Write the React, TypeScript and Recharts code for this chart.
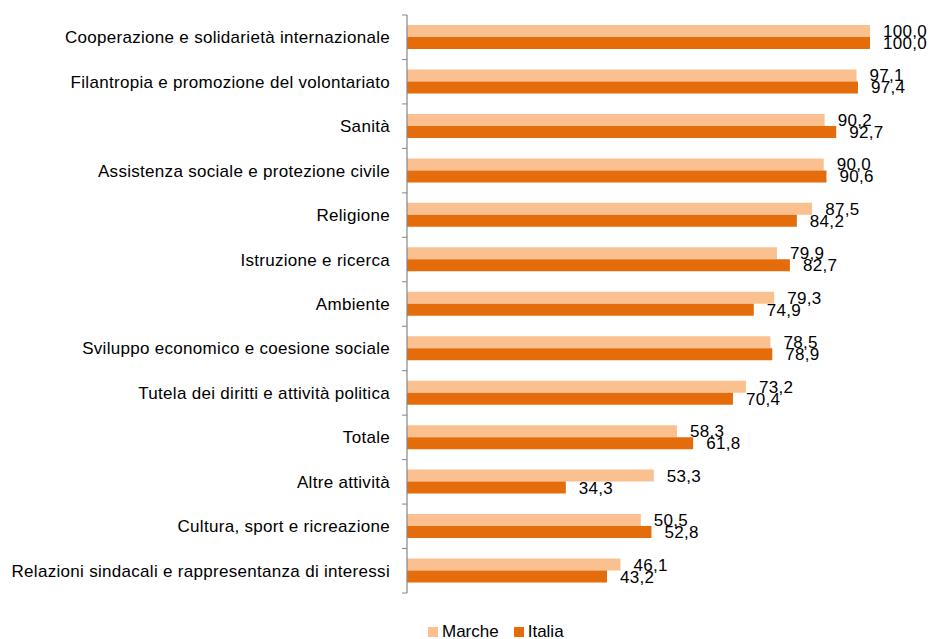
import React from "react";
import { BarChart, Bar, XAxis, YAxis, Legend, LabelList } from "recharts";

const categories = [
  "Cooperazione e solidarietà internazionale",
  "Filantropia e promozione del volontariato",
  "Sanità",
  "Assistenza sociale e protezione civile",
  "Religione",
  "Istruzione e ricerca",
  "Ambiente",
  "Sviluppo economico e coesione sociale",
  "Tutela dei diritti e attività politica",
  "Totale",
  "Altre attività",
  "Cultura, sport e ricreazione",
  "Relazioni sindacali e rappresentanza di interessi",
];
const marche = [100.0, 97.1, 90.2, 90.0, 87.5, 79.9, 79.3, 78.5, 73.2, 58.3, 53.3, 50.5, 46.1];
const italia = [100.0, 97.4, 92.7, 90.6, 84.2, 82.7, 74.9, 78.9, 70.4, 61.8, 34.3, 52.8, 43.2];

const data = categories.map((c, i) => ({ name: c, Marche: marche[i], Italia: italia[i] }));

const LIGHT = "#FAC090";
const DARK = "#E46C0A";
const AXIS = "#868686";
const FONT = "'Liberation Sans', Arial, sans-serif";
const TICK_SIZE = 5;
const TICK_MARGIN = 12;

const fmt = (v: any) => Number(v).toFixed(1).replace(".", ",");

const CatTick = (props: any) => {
  const { x, y, payload, index } = props;
  const half = payload && typeof payload.offset === "number" ? payload.offset : 0;
  const lineEnd = x + TICK_MARGIN + TICK_SIZE;
  const lineStart = x + TICK_MARGIN;
  const isLast = index === categories.length - 1;
  return (
    <g>
      <line x1={lineStart} x2={lineEnd} y1={y - half} y2={y - half} stroke={AXIS} strokeWidth={1} />
      {isLast && <line x1={lineStart} x2={lineEnd} y1={y + half} y2={y + half} stroke={AXIS} strokeWidth={1} />}
      <text
        x={x}
        y={y}
        dy="0.355em"
        textAnchor="end"
        fontSize={17}
        fill="#000"
        fontFamily={FONT}
        letterSpacing={0.3}
      >
        {payload.value}
      </text>
    </g>
  );
};

const LegendContent = () => (
  <div style={{ fontFamily: FONT, fontSize: 17, color: "#000", whiteSpace: "nowrap", lineHeight: "17px" }}>
    <span style={{ display: "inline-block", width: 10, height: 10, background: LIGHT, marginRight: 4 }} />
    <span style={{ marginRight: 15 }}>Marche</span>
    <span style={{ display: "inline-block", width: 10, height: 10, background: DARK, marginRight: 4 }} />
    <span>Italia</span>
  </div>
);

export default function App() {
  return (
    <div style={{ position: "absolute", left: 0, top: 0, width: 931, height: 639 }}>
      <BarChart
        width={931}
        height={639}
        data={data}
        layout="vertical"
        margin={{ top: 15, right: 61, bottom: 46, left: 0 }}
        barCategoryGap={10}
        barGap={0}
      >
        <XAxis type="number" domain={[0, 100]} hide />
        <YAxis
          type="category"
          dataKey="name"
          width={407}
          axisLine={{ stroke: AXIS, strokeWidth: 1.2 }}
          tickLine={false}
          tickSize={TICK_SIZE}
          tickMargin={TICK_MARGIN}
          interval={0}
          tick={<CatTick />}
        />
        <Legend
          layout="horizontal"
          verticalAlign="middle"
          align="center"
          content={<LegendContent />}
          wrapperStyle={{ top: 623, left: 428, width: "auto" }}
        />
        <Bar dataKey="Marche" fill={LIGHT} isAnimationActive={false}>
          <LabelList dataKey="Marche" position="right" offset={13} formatter={fmt} style={{ fontSize: 17, fill: "#000", fontFamily: FONT, letterSpacing: 0.3 }} />
        </Bar>
        <Bar dataKey="Italia" fill={DARK} isAnimationActive={false}>
          <LabelList dataKey="Italia" position="right" offset={13} formatter={fmt} style={{ fontSize: 17, fill: "#000", fontFamily: FONT, letterSpacing: 0.3 }} />
        </Bar>
      </BarChart>
    </div>
  );
}
